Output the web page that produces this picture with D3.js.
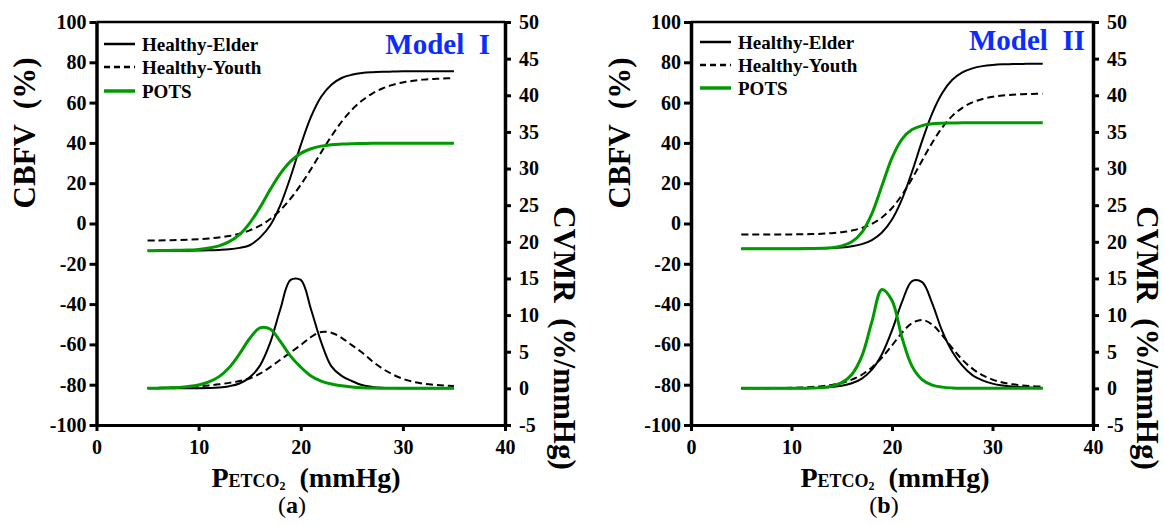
<!DOCTYPE html>
<html><head><meta charset="utf-8">
<script src="https://cdn.jsdelivr.net/npm/d3@7"></script>
<style>
body{margin:0;background:#fff}
svg{display:block}
text{font-family:"Liberation Serif","Times New Roman",serif;font-weight:bold;fill:#000}
</style>
</head><body>
<svg id="chart" width="1164" height="526"></svg>
<script>
// ---------- DATA ----------
const pco2 = [5,6,7,8,9,10,11,12,13,14,15,16,17,18,19,20,21,22,23,24,25,26,27,28,29,30,31,32,33,34,35];
const seriesNames = ["Healthy-Elder","Healthy-Youth","POTS"];
const xTicks = [0,10,20,30,40];
const cbfvTicks = [-100,-80,-60,-40,-20,0,20,40,60,80,100];
const cvmrTicks = [-5,0,5,10,15,20,25,30,35,40,45,50];

// Model I
const elderCBFV_I = [-13.5,-13.5,-13.5,-13.5,-13.5,-13.4,-13.3,-13.1,-12.8,-12.1,-10.8,-7.0,-1.0,9.1,23.1,38.9,52.9,62.9,68.9,72.2,73.8,74.7,75.1,75.3,75.4,75.5,75.5,75.5,75.5,75.5,75.5];
const youthCBFV_I = [-8.4,-8.4,-8.3,-8.2,-8.0,-7.8,-7.5,-6.9,-6.2,-5.1,-3.4,-1.1,2.2,6.6,12.3,19.2,27.0,35.3,43.3,50.5,56.4,61.0,64.5,67.0,68.8,70.0,70.8,71.4,71.7,72.0,72.2];
const potsCBFV_I  = [-13.5,-13.45,-13.4,-13.3,-13.2,-12.85,-12.2,-11.1,-9.0,-5.5,0.2,7.9,16.7,24.7,30.8,34.8,37.1,38.4,39.1,39.4,39.6,39.7,39.8,39.8,39.8,39.8,39.8,39.8,39.8,39.8,39.8];
const elderCVMR_I = [0,0,0.01,0.01,0.02,0.03,0.06,0.13,0.3,0.67,1.5,3.1,6.2,10.8,14.8,14.8,10.8,6.3,3.0,1.7,1.0,0.45,0.2,0.08,0.04,0.02,0.01,0,0,0,0];
const youthCVMR_I = [0.05,0.07,0.1,0.14,0.2,0.28,0.4,0.55,0.75,1.0,1.35,2.0,2.9,3.9,4.9,5.9,7.0,7.7,7.6,6.9,5.9,4.9,3.7,2.7,1.9,1.3,0.9,0.65,0.5,0.4,0.33];
const potsCVMR_I  = [0.02,0.03,0.07,0.13,0.24,0.46,0.88,1.6,2.85,4.7,6.8,8.25,8.1,6.4,4.4,2.9,1.7,1.0,0.6,0.35,0.2,0.1,0.05,0.03,0.02,0.01,0,0,0,0,0];

// Model II
const elderCBFV_II = [-12.5,-12.5,-12.5,-12.5,-12.5,-12.5,-12.46,-12.4,-12.3,-12.2,-11.9,-11.3,-10.25,-8.2,-4.45,2.0,12.1,25.8,41.0,54.7,64.8,71.3,75.0,77.0,78.1,78.7,79.0,79.1,79.2,79.3,79.3];
const youthCBFV_II = [-5.5,-5.5,-5.5,-5.47,-5.45,-5.4,-5.35,-5.25,-5.1,-4.8,-4.3,-3.5,-2.2,-0.2,3.0,7.7,14.2,22.3,31.3,40.1,47.6,53.4,57.4,60.1,61.8,62.9,63.5,63.9,64.15,64.3,64.4];
const potsCBFV_II  = [-12.5,-12.5,-12.5,-12.5,-12.5,-12.5,-12.5,-12.4,-12.3,-12.0,-11.1,-9.1,-4.4,4.9,18.75,32.6,41.9,46.6,48.6,49.5,49.8,49.9,50,50,50,50,50,50,50,50,50];
const elderCVMR_II = [0,0,0,0,0.01,0.01,0.02,0.04,0.09,0.18,0.35,0.69,1.33,2.55,4.66,7.9,11.8,14.65,14.5,11.6,7.8,5.0,3.1,1.8,1.1,0.65,0.4,0.25,0.15,0.1,0.05];
const youthCVMR_II = [0.01,0.01,0.02,0.03,0.05,0.07,0.11,0.18,0.29,0.47,0.75,1.19,1.86,2.86,4.2,5.86,7.6,8.9,9.34,8.7,7.25,5.5,3.9,2.7,1.8,1.2,0.8,0.55,0.4,0.3,0.22];
const potsCVMR_II  = [0,0,0,0,0,0.01,0.01,0.04,0.1,0.29,0.78,1.9,4.4,9.1,13.5,12.0,6.9,3.0,1.2,0.45,0.17,0.06,0.02,0.01,0,0,0,0,0,0,0];

// ---------- LAYOUT ----------
const GREEN = "#009a00";
const BLUE = "#0a2cff";
const FONT = '"Liberation Serif","Times New Roman",serif';
const styles = [
  {color:"#000", width:2, dash:null},
  {color:"#000", width:2, dash:"7,4"},
  {color:GREEN, width:3, dash:null}
];
const panels = [
  {model:"I", tag:"a", x0:96.5, x1:505, top:22, bottom:425,
   cbfv:[elderCBFV_I,youthCBFV_I,potsCBFV_I], cvmr:[elderCVMR_I,youthCVMR_I,potsCVMR_I],
   leftTitleX:24, rightTitleX:565, modelX:490, modelY:54, legX:104, legY:[44,67,91],
   xTitleX:306, tagX:292},
  {model:"II", tag:"b", x0:691, x1:1093, top:22, bottom:425,
   cbfv:[elderCBFV_II,youthCBFV_II,potsCBFV_II], cvmr:[elderCVMR_II,youthCVMR_II,potsCVMR_II],
   leftTitleX:619, rightTitleX:1148, modelX:1085, modelY:50, legX:700, legY:[42,65,88],
   xTitleX:895, tagX:884}
];

const svg = d3.select("#chart");

function styleAxis(g, w) {
  g.select(".domain").attr("stroke","#000").attr("stroke-width",w);
  g.selectAll(".tick line").attr("stroke","#000").attr("stroke-width",3);
  g.selectAll(".tick text").style("font-size","20px").style("font-weight","bold")
    .style("font-family",FONT).attr("fill","#000");
}
const fmt = d => String(d);

panels.forEach(p => {
  const g = svg.append("g");
  const x = d3.scaleLinear().domain([0,40]).range([p.x0,p.x1]);
  const yL = d3.scaleLinear().domain([-100,100]).range([p.bottom,p.top]);
  const yR = d3.scaleLinear().domain([-5,50]).range([p.bottom,p.top]);

  // top frame
  g.append("line").attr("x1",p.x0).attr("x2",p.x1).attr("y1",p.top).attr("y2",p.top)
    .attr("stroke","#000").attr("stroke-width",2.5);

  const ax = g.append("g").attr("transform",`translate(0,${p.bottom})`)
    .call(d3.axisBottom(x).tickValues(xTicks).tickFormat(fmt).tickSizeInner(6).tickSizeOuter(0).tickPadding(9));
  styleAxis(ax, 3);
  const al = g.append("g").attr("transform",`translate(${p.x0},0)`)
    .call(d3.axisLeft(yL).tickValues(cbfvTicks).tickFormat(fmt).tickSizeInner(7).tickSizeOuter(0).tickPadding(3));
  styleAxis(al, 3.5);
  const ar = g.append("g").attr("transform",`translate(${p.x1},0)`)
    .call(d3.axisRight(yR).tickValues(cvmrTicks).tickFormat(fmt).tickSizeInner(6).tickSizeOuter(0).tickPadding(8));
  styleAxis(ar, 3.5);

  // curves
  const lineL = d3.line().x((d,i)=>x(pco2[i])).y(d=>yL(d)).curve(d3.curveCatmullRom);
  const lineR = d3.line().x((d,i)=>x(pco2[i])).y(d=>yR(d)).curve(d3.curveCatmullRom);
  [0,1,2].forEach(k => {
    const s = styles[k];
    g.append("path").attr("d", lineL(p.cbfv[k])).attr("fill","none")
      .attr("stroke",s.color).attr("stroke-width",s.width).attr("stroke-dasharray",s.dash);
    g.append("path").attr("d", lineR(p.cvmr[k])).attr("fill","none")
      .attr("stroke",s.color).attr("stroke-width",s.width).attr("stroke-dasharray",s.dash);
  });

  // legend
  seriesNames.forEach((name,k) => {
    const s = styles[k];
    g.append("line").attr("x1",p.legX).attr("x2",p.legX+31).attr("y1",p.legY[k]).attr("y2",p.legY[k])
      .attr("stroke",s.color).attr("stroke-width",s.width+0.5).attr("stroke-dasharray",s.dash ? "6,4" : null);
    g.append("text").attr("x",p.legX+38).attr("y",p.legY[k]).attr("dy","0.35em")
      .style("font-size","19px").text(name);
  });

  // model label
  g.append("text").attr("x",p.modelX).attr("y",p.modelY).attr("text-anchor","end")
    .attr("xml:space","preserve").style("font-size","29px").style("fill",BLUE)
    .text("Model  " + p.model);

  // axis titles
  g.append("text").attr("transform",`translate(${p.leftTitleX},133) rotate(-90)`)
    .attr("text-anchor","middle").attr("dy","0.35em").attr("xml:space","preserve")
    .style("font-size","31px").text("CBFV  (%)");
  g.append("text").attr("transform",`translate(${p.rightTitleX},338) rotate(90)`)
    .attr("text-anchor","middle").attr("dy","0.35em").attr("xml:space","preserve")
    .style("font-size","31px").text("CVMR  (%/mmHg)");

  const xt = g.append("text").attr("x",p.xTitleX).attr("y",487).attr("text-anchor","middle")
    .attr("xml:space","preserve");
  xt.append("tspan").style("font-size","28px").text("P");
  xt.append("tspan").style("font-size","18px").text("ETCO");
  xt.append("tspan").style("font-size","12px").attr("dy",3).text("2");
  xt.append("tspan").style("font-size","28px").attr("dy",-3).text("  (mmHg)");

  const tg = g.append("text").attr("x",p.tagX).attr("y",513).attr("text-anchor","middle");
  tg.append("tspan").style("font-size","24px").style("font-weight","normal").text("(");
  tg.append("tspan").style("font-size","24px").text(p.tag);
  tg.append("tspan").style("font-size","24px").style("font-weight","normal").text(")");
});
</script>
</body></html>
